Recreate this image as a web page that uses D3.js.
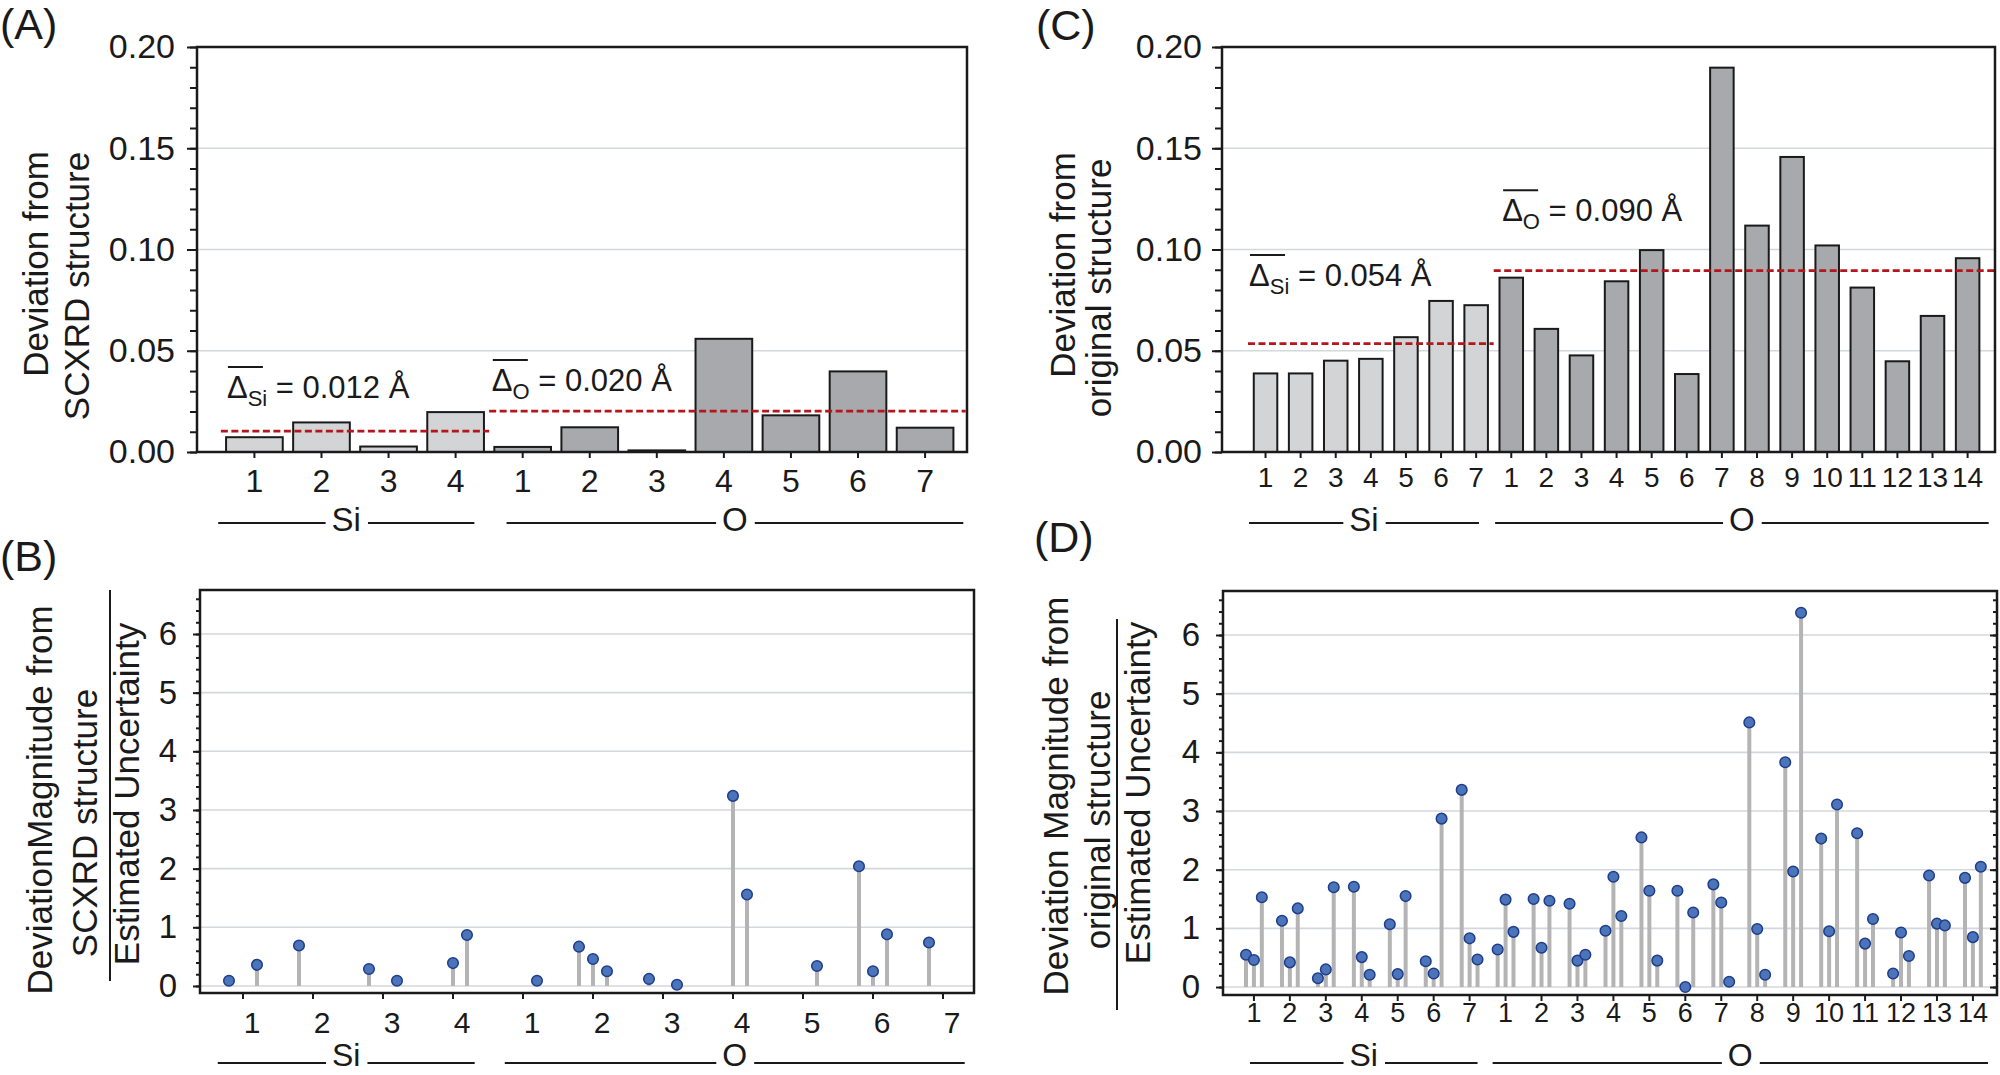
<!DOCTYPE html>
<html>
<head>
<meta charset="utf-8">
<script src="https://cdn.jsdelivr.net/npm/d3@7"></script>
<style>
  body { margin: 0; background: #fff; }
  svg text { font-family: "Liberation Sans", Arial, sans-serif; fill: #1a1a1a; }
</style>
</head>
<body>
<svg id="fig" width="2000" height="1075"></svg>
<script>
'use strict';

// ---- data ----
var siLabelsA = ['1', '2', '3', '4'];
var oLabelsA = ['1', '2', '3', '4', '5', '6', '7'];
var siDevA = [0.0073, 0.0146, 0.0027, 0.0197];
var oDevA = [0.0025, 0.0122, 0.0008, 0.0559, 0.0181, 0.0398, 0.0120];
var meanLineA = [0.0103, 0.0202];
var meanTextA = ['0.012', '0.020'];

var siLabelsC = ['1', '2', '3', '4', '5', '6', '7'];
var oLabelsC = ['1', '2', '3', '4', '5', '6', '7', '8', '9', '10', '11', '12', '13', '14'];
var siDevC = [0.0388, 0.0388, 0.0451, 0.0460, 0.0567, 0.0746, 0.0725];
var oDevC = [0.0861, 0.0608, 0.0477, 0.0843, 0.0997, 0.0385, 0.1898,
             0.1118, 0.1457, 0.1020, 0.0812, 0.0448, 0.0672, 0.0957];
var meanLineC = [0.0535, 0.0896];
var meanTextC = ['0.054', '0.090'];

// deviation / uncertainty, three entries per atom, null = not plotted
var siRatioB = [[0.09, null, 0.36], [0.69, null, null], [0.29, null, 0.09], [null, 0.39, 0.87]];
var oRatioB = [[null, null, 0.09], [0.67, 0.46, 0.25], [0.12, null, 0.02], [null, 3.24, 1.56],
               [null, null, 0.34], [2.04, 0.25, 0.88], [0.74, null, null]];

var siRatioD = [[0.55, 0.46, 1.53], [1.13, 0.42, 1.34], [0.15, 0.30, 1.70], [1.71, 0.51, 0.21],
                [1.07, 0.22, 1.55], [0.44, 0.23, 2.87], [3.36, 0.83, 0.47]];
var oRatioD = [[0.64, 1.49, 0.94], [1.50, 0.67, 1.47], [1.42, 0.45, 0.55], [0.96, 1.88, 1.21],
               [2.55, 1.64, 0.45], [1.64, 0.00, 1.27], [1.75, 1.44, 0.09], [4.51, 0.99, 0.21],
               [3.83, 1.97, 6.38], [2.53, 0.95, 3.11], [2.62, 0.74, 1.16], [0.23, 0.93, 0.53],
               [1.90, 1.08, 1.05], [1.86, 0.85, 2.05]];

var BAR_SI = '#d3d4d6';
var BAR_O = '#a7a9ac';
var INK = '#1a1a1a';
var GRID = '#d4d7db';
var MEAN_RED = '#b5161c';

var svg = d3.select('#fig');

function frame(p, x, y, major, minor, fmt, tickFont, rightTicks) {
    var g = svg.append('g');
    // grid
    g.selectAll('line.grid')
        .data(major.filter(function (d) { return y(d) > p.top + 2 && y(d) < p.bottom - 2; }))
        .enter().append('line')
        .attr('x1', p.left).attr('x2', p.right)
        .attr('y1', function (d) { return y(d); })
        .attr('y2', function (d) { return y(d); })
        .attr('stroke', GRID).attr('stroke-width', 1.6);

    var minorAxis = g.append('g')
        .attr('transform', 'translate(' + p.left + ',0)')
        .call(d3.axisLeft(y).tickValues(minor).tickSize(p.minorLen).tickFormat(''));
    var majorAxis = g.append('g')
        .attr('transform', 'translate(' + p.left + ',0)')
        .call(d3.axisLeft(y).tickValues(major).tickSize(p.majorLen).tickPadding(p.labelPad).tickFormat(fmt));
    [minorAxis, majorAxis].forEach(function (a) {
        a.select('.domain').remove();
        a.selectAll('line').attr('stroke', INK).attr('stroke-width', 2);
    });
    majorAxis.selectAll('text')
        .style('font-size', tickFont + 'px')
        .attr('fill', INK);
    if (rightTicks) {
        [[minor, p.minorLen], [major, p.majorLen]].forEach(function (t) {
            var a = g.append('g')
                .attr('transform', 'translate(' + p.right + ',0)')
                .call(d3.axisRight(y).tickValues(t[0]).tickSize(-t[1]).tickFormat(''));
            a.select('.domain').remove();
            a.selectAll('line').attr('stroke', INK).attr('stroke-width', 2);
        });
    }
    return g;
}

function box(p) {
    svg.append('rect')
        .attr('x', p.left).attr('y', p.top)
        .attr('width', p.right - p.left).attr('height', p.bottom - p.top)
        .attr('fill', 'none').attr('stroke', INK).attr('stroke-width', 2.5);
}

function xTicks(p, x, labels, font, base, dx) {
    var g = svg.append('g');
    g.selectAll('line').data(labels).enter().append('line')
        .attr('x1', function (d, i) { return x(i); })
        .attr('x2', function (d, i) { return x(i); })
        .attr('y1', p.bottom).attr('y2', p.bottom + 6)
        .attr('stroke', INK).attr('stroke-width', 2);
    g.selectAll('text').data(labels).enter().append('text')
        .attr('x', function (d, i) { return x(i) + dx; })
        .attr('y', base)
        .attr('text-anchor', 'middle')
        .style('font-size', font + 'px')
        .text(function (d) { return d; });
}

function groups(x, spans, names, lineY, base, font) {
    var g = svg.append('g');
    spans.forEach(function (s, k) {
        var a = x(s[0]), b = x(s[1]), mid = (a + b) / 2;
        var t = g.append('text')
            .attr('x', mid).attr('y', base)
            .attr('text-anchor', 'middle')
            .style('font-size', font + 'px')
            .text(names[k]);
        var w = t.node().getComputedTextLength();
        [[a, mid - w / 2 - 6], [mid + w / 2 + 7, b]].forEach(function (seg) {
            g.append('line')
                .attr('x1', seg[0]).attr('x2', seg[1])
                .attr('y1', lineY).attr('y2', lineY)
                .attr('stroke', INK).attr('stroke-width', 2);
        });
    });
}

function yTitle(lines, bar) {
    var g = svg.append('g');
    lines.forEach(function (l) {
        g.append('text')
            .attr('transform', 'translate(' + l[1] + ',' + l[2] + ') rotate(-90)')
            .attr('text-anchor', 'middle')
            .style('font-size', '35px')
            .text(l[0]);
    });
    if (bar) {
        g.append('line')
            .attr('x1', bar[0]).attr('x2', bar[0])
            .attr('y1', bar[1]).attr('y2', bar[2])
            .attr('stroke', INK).attr('stroke-width', 2);
    }
}

function panelLetter(txt, x, y) {
    svg.append('text').attr('x', x).attr('y', y)
        .style('font-size', '43px')
        .text(txt);
}

function meanLabel(x, y, sub, value) {
    var t = svg.append('text').attr('x', x).attr('y', y).style('font-size', '31px');
    t.append('tspan').text('\u0394');
    t.append('tspan').attr('dy', 8).style('font-size', '22px').text(sub);
    t.append('tspan').attr('dy', -8).text(' = ' + value + ' \u00c5');
    svg.append('line')
        .attr('x1', x + 1).attr('x2', x + 36)
        .attr('y1', y - 31).attr('y2', y - 31)
        .attr('stroke', INK).attr('stroke-width', 2);
}

function barPanel(p, siLabels, oLabels, siDev, oDev, meanLine, meanText, opt) {
    var labels = siLabels.concat(oLabels);
    var values = siDev.concat(oDev);
    var nSi = siLabels.length;
    var x = d3.scaleLinear().domain(opt.xDomain).range([p.left, p.right]);
    var y = d3.scaleLinear().domain([0, 0.2]).range([p.bottom, p.top]);

    frame(p, x, y, d3.range(0, 0.2001, 0.05), d3.range(0, 0.2001, 0.01),
        d3.format('.2f'), 34, false);

    var half = opt.barWidth / 2;
    svg.append('g').selectAll('rect').data(values).enter().append('rect')
        .attr('x', function (d, i) { return x(i - half); })
        .attr('width', x(opt.barWidth) - x(0))
        .attr('y', function (d) { return y(d); })
        .attr('height', function (d) { return y(0) - y(d); })
        .attr('fill', function (d, i) { return i < nSi ? BAR_SI : BAR_O; })
        .attr('stroke', INK).attr('stroke-width', 2);

    var spans = [[-0.5, nSi - 0.5], [nSi - 0.5, opt.xDomain[1] - 0.02]];
    svg.append('g').selectAll('line').data(meanLine).enter().append('line')
        .attr('x1', function (d, k) { return x(spans[k][0]); })
        .attr('x2', function (d, k) { return x(spans[k][1]); })
        .attr('y1', function (d) { return y(d); })
        .attr('y2', function (d) { return y(d); })
        .attr('stroke', MEAN_RED).attr('stroke-width', 2.8)
        .attr('stroke-dasharray', '7,3.5');

    meanLabel(x(opt.siText[0]), y(opt.siText[1]), 'Si', meanText[0]);
    meanLabel(x(opt.oText[0]), y(opt.oText[1]), 'O', meanText[1]);

    box(p);
    xTicks(p, x, labels, opt.tickFont, opt.tickBase, 0);
    groups(x, opt.groupSpans, ['Si', 'O'], opt.groupLine, opt.groupBase, 33);
}

function stemPanel(p, siLabels, oLabels, siRatio, oRatio, opt) {
    var labels = siLabels.concat(oLabels);
    var rows = siRatio.concat(oRatio);
    var x = d3.scaleLinear().domain(opt.xDomain).range([p.left, p.right]);
    var y = d3.scaleLinear().domain(opt.yDomain).range([p.bottom, p.top]);

    frame(p, x, y, d3.range(0, 6.01, 1), d3.range(0, 6.61, 0.2).map(function (d) { return +d.toFixed(1); }),
        d3.format('d'), 33, opt.rightTicks);

    var pts = [];
    rows.forEach(function (r, i) {
        r.forEach(function (v, k) {
            if (v !== null) pts.push({ i: i, k: k, v: v });
        });
    });
    var px = function (d) { return x(d.i + opt.offsets[d.k]); };

    svg.append('g').selectAll('line').data(pts).enter().append('line')
        .attr('x1', px).attr('x2', px)
        .attr('y1', y(0))
        .attr('y2', function (d) { return y(d.v); })
        .attr('stroke', '#b4b4b4').attr('stroke-width', 4);
    svg.append('g').selectAll('circle').data(pts).enter().append('circle')
        .attr('cx', px)
        .attr('cy', function (d) { return y(d.v); })
        .attr('r', 5.3)
        .attr('fill', '#4b74b9').attr('stroke', '#1f3d8c').attr('stroke-width', 1.5);

    box(p);
    xTicks(p, x, labels, opt.tickFont, opt.tickBase, opt.labelDx);
    groups(x, opt.groupSpans, ['Si', 'O'], opt.groupLine, opt.groupBase, 32);
}

// ---- (A) ----
barPanel({ left: 197, right: 967, top: 47, bottom: 452, majorLen: 10, minorLen: 7, labelPad: 12 },
    siLabelsA, oLabelsA, siDevA, oDevA, meanLineA, meanTextA, {
        xDomain: [-0.856, 10.625], barWidth: 0.845,
        siText: [-0.41, 0.0267], oText: [3.54, 0.0301],
        tickFont: 32, tickBase: 492,
        groupSpans: [[-0.54, 3.28], [3.76, 10.57]], groupLine: 523, groupBase: 531
    });
yTitle([['Deviation from', 48, 264], ['SCXRD structure', 89, 286]]);
panelLetter('(A)', 0, 39);

// ---- (C) ----
barPanel({ left: 1222, right: 1995, top: 47, bottom: 452, majorLen: 10, minorLen: 7, labelPad: 10 },
    siLabelsC, oLabelsC, siDevC, oDevC, meanLineC, meanTextC, {
        xDomain: [-1.24, 20.78], barWidth: 0.67,
        siText: [-0.47, 0.082], oText: [6.74, 0.114],
        tickFont: 28, tickBase: 487,
        groupSpans: [[-0.47, 6.08], [6.54, 20.6]], groupLine: 523, groupBase: 531
    });
yTitle([['Deviation from', 1075, 265], ['original structure', 1111, 288]]);
panelLetter('(C)', 1036, 40);

// ---- (B) ----
stemPanel({ left: 200, right: 974, top: 590, bottom: 993, majorLen: 7, minorLen: 4, labelPad: 16 },
    siLabelsA, oLabelsA, siRatioB, oRatioB, {
        xDomain: [-0.614, 10.443], yDomain: [-0.12, 6.75],
        offsets: [-0.2, 0, 0.2], rightTicks: false,
        tickFont: 30, tickBase: 1033, labelDx: 9,
        groupSpans: [[-0.36, 3.31], [3.74, 10.31]], groupLine: 1063, groupBase: 1066
    });
yTitle([['DeviationMagnitude from', 52, 800], ['SCXRD structure', 97, 823], ['Estimated Uncertainty', 139, 794]],
    [110, 590, 981]);
panelLetter('(B)', 0, 571);

// ---- (D) ----
stemPanel({ left: 1223, right: 1997, top: 591, bottom: 995, majorLen: 7, minorLen: 4, labelPad: 16 },
    siLabelsC, oLabelsC, siRatioD, oRatioD, {
        xDomain: [-0.86, 20.67], yDomain: [-0.136, 6.75],
        offsets: [-0.22, 0, 0.22], rightTicks: true,
        tickFont: 27, tickBase: 1022, labelDx: 0,
        groupSpans: [[-0.11, 6.22], [6.64, 20.42]], groupLine: 1063, groupBase: 1066
    });
yTitle([['Deviation Magnitude from', 1068, 796], ['original structure', 1110, 820], ['Estimated Uncertainty', 1150, 793]],
    [1117, 619, 1010]);
panelLetter('(D)', 1034, 552);
</script>
</body>
</html>
